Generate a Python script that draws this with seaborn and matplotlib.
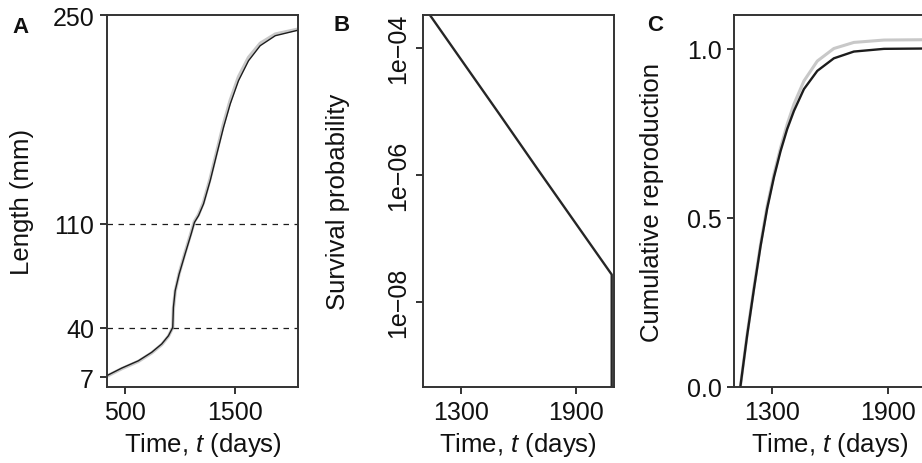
import numpy as np
import pandas as pd
import seaborn as sns
import matplotlib
matplotlib.use("Agg")
import matplotlib.pyplot as plt
from matplotlib.ticker import FixedLocator, NullLocator

# Panel A: length over time (two model runs, nearly identical)
len_t = [334, 470, 621, 742, 833, 894, 933, 939, 955, 991, 1045, 1100, 1130,
         1167, 1212, 1273, 1333, 1394, 1455, 1530, 1621, 1727, 1864, 2076]
len_dark = [7.9, 13.0, 17.9, 23.6, 29.2, 34.7, 40.3, 53.8, 64.9, 76.1, 89.6,
            103.0, 110.8, 115.3, 123.1, 138.8, 156.7, 174.6, 190.3, 205.9,
            219.3, 229.4, 236.1, 239.9]
len_grey = [7.5, 12.6, 17.5, 23.2, 28.8, 34.4, 40.3, 53.0, 64.5, 76.5, 90.5,
            104.0, 111.5, 116.0, 124.2, 140.3, 158.5, 176.8, 192.8, 208.5,
            221.5, 231.0, 237.2, 240.6]
len_thresholds = [40, 110]
len_ticks = [7, 40, 110, 250]

# Panel B: survival probability (log scale), drops to zero at the end
surv_t = [1100, 1300, 1500, 1700, 1900, 2086, 2086]
surv_p = [4.8e-4, 6.6e-5, 9.1e-6, 1.23e-6, 1.7e-7, 2.7e-8, 1e-12]
surv_ticks = [1e-4, 1e-6, 1e-8]
surv_labels = ["1e\u221204", "1e\u221206", "1e\u221208"]

# Panel C: cumulative reproduction
rep_t = [1139, 1174, 1209, 1243, 1277, 1312, 1346, 1380, 1415, 1466, 1535,
         1620, 1723, 1878, 2095]
rep_grey = [0.0, 0.156, 0.294, 0.422, 0.535, 0.629, 0.707, 0.776, 0.836, 0.904,
            0.963, 1.0, 1.018, 1.025, 1.026]
rep_dark = [0.0, 0.152, 0.289, 0.416, 0.527, 0.620, 0.697, 0.762, 0.816, 0.880,
            0.934, 0.971, 0.991, 0.999, 1.0]

sns.set_style("ticks")
plt.rcParams["font.family"] = ["Liberation Sans", "DejaVu Sans"]
plt.rcParams["mathtext.fontset"] = "custom"
plt.rcParams["mathtext.rm"] = "Liberation Sans"
plt.rcParams["mathtext.it"] = "Liberation Sans:italic"

DARK = "#1c1c1c"
GREY = "#c8c8c8"
SPINE = "#333333"
TICK_FS = 18
LAB_FS = 18.5

fig = plt.figure(figsize=(9.22, 4.64), dpi=100)
W = 922.0
H = 464.0


def make_ax(left_px):
    ax = fig.add_axes([left_px / W, (H - 388) / H, 191.3 / W, 372 / H])
    for s in ax.spines.values():
        s.set_color(SPINE)
        s.set_linewidth(1.4)
    ax.tick_params(direction="out", length=5.3, width=1.4, color=SPINE,
                   labelsize=TICK_FS, labelcolor="#111111", pad=4)
    ax.set_xlabel("Time, $t$ (days)", fontsize=LAB_FS, color="#111111")
    ax.xaxis.set_label_coords(0.5, -0.115)
    return ax


# ---- A
axA = make_ax(107)
sns.lineplot(x=len_t, y=len_grey, ax=axA, color=GREY, lw=2.4,
             estimator=None, sort=False)
sns.lineplot(x=len_t, y=len_dark, ax=axA, color=DARK, lw=1.0,
             estimator=None, sort=False)
for v in len_thresholds:
    axA.axhline(v, color=DARK, lw=0.9, ls=(0, (4.4, 4.4)))
axA.set_xlim(336, 2073)
axA.set_ylim(0.3, 250)
axA.set_yticks(len_ticks)
axA.set_xticks([500, 1500])
axA.set_ylabel("Length (mm)", fontsize=LAB_FS, color="#111111")
axA.yaxis.set_label_coords(-0.38, 0.5)

# ---- B
axB = make_ax(422.7)
sns.lineplot(x=surv_t, y=surv_p, ax=axB, color="#262626", lw=1.7,
             estimator=None, sort=False)
axB.set_yscale("log")
axB.set_xlim(1100, 2098)
axB.set_ylim(10 ** -9.34, 10 ** -3.48)
axB.yaxis.set_major_locator(FixedLocator(surv_ticks))
axB.yaxis.set_minor_locator(NullLocator())
axB.set_yticklabels(surv_labels, rotation=90, va="center")
axB.set_xticks([1300, 1900])
axB.set_ylabel("Survival probability", fontsize=LAB_FS, color="#111111")
axB.yaxis.set_label_coords(-0.38, 0.5)

# ---- C
axC = make_ax(734.3)
sns.lineplot(x=rep_t, y=rep_grey, ax=axC, color=GREY, lw=2.2,
             estimator=None, sort=False)
sns.lineplot(x=rep_t, y=rep_dark, ax=axC, color=DARK, lw=1.7,
             estimator=None, sort=False)
axC.set_xlim(1108, 2092)
axC.set_ylim(0, 1.099)
axC.set_yticks([0.0, 0.5, 1.0])
axC.set_yticklabels(["0.0", "0.5", "1.0"])
axC.set_xticks([1300, 1900])
axC.set_ylabel("Cumulative reproduction", fontsize=LAB_FS, color="#111111")
axC.yaxis.set_label_coords(-0.37, 0.5)

# panel letters
for lab, xp, yp in [("A", 20.5, 27.5), ("B", 342, 25.5), ("C", 655, 25.5)]:
    fig.text(xp / W, 1 - yp / H, lab, fontsize=16, fontweight="bold",
             ha="center", va="center", color="#111111")

fig.savefig("out.png", dpi=100)
